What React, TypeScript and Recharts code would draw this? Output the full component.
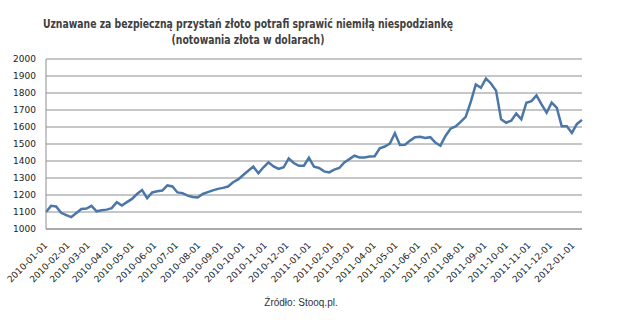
import { LineChart, Line, XAxis, YAxis, CartesianGrid } from 'recharts';

// weekly gold quotes (USD/oz), first quote on 2010-01-01
const startDate = '2010-01-01';
const weeklyPrices = [
  1100, 1136, 1133, 1095, 1082, 1070, 1094, 1118, 1120, 1136,
  1104, 1110, 1114, 1123, 1158, 1138, 1158, 1177, 1206, 1229,
  1181, 1215, 1222, 1226, 1256, 1250, 1215, 1211, 1196, 1188,
  1185, 1206, 1217, 1227, 1236, 1242, 1250, 1275, 1292, 1318,
  1343, 1367, 1328, 1363, 1392, 1368, 1353, 1363, 1415, 1388,
  1372, 1372, 1419, 1366, 1359, 1339, 1333, 1349, 1359, 1392,
  1411, 1431, 1421, 1421, 1427, 1428, 1475, 1485, 1502, 1563,
  1494, 1496, 1520, 1540, 1543, 1535, 1540, 1508, 1490, 1547,
  1590, 1603, 1630, 1660, 1748, 1850, 1831, 1885, 1856, 1814,
  1645, 1625, 1637, 1679, 1645, 1743, 1752, 1786, 1733, 1684,
  1743, 1714, 1604, 1604, 1565, 1618, 1642,
];

const monthLabels = [
  '2010-01-01', '2010-02-01', '2010-03-01', '2010-04-01', '2010-05-01',
  '2010-06-01', '2010-07-01', '2010-08-01', '2010-09-01', '2010-10-01',
  '2010-11-01', '2010-12-01', '2011-01-01', '2011-02-01', '2011-03-01',
  '2011-04-01', '2011-05-01', '2011-06-01', '2011-07-01', '2011-08-01',
  '2011-09-01', '2011-10-01', '2011-11-01', '2011-12-01', '2012-01-01',
];

const priceTicks = [1000, 1100, 1200, 1300, 1400, 1500, 1600, 1700, 1800, 1900, 2000];

const DAY = 86400000;
const t0 = Date.parse(startDate);
const toDay = (s: string) => Math.round((Date.parse(s) - t0) / DAY);
const fromDay = (d: number) => new Date(t0 + d * DAY).toISOString().slice(0, 10);

const chartData = weeklyPrices.map((price, i) => ({ day: i * 7, price }));
const monthTicks = monthLabels.map(toDay);
const lastDay = chartData[chartData.length - 1].day;

const DateTick = ({ x, y, payload }: any) => {
  const tx = x + 2;
  const ty = y + 17;
  return (
    <text
      x={tx}
      y={ty}
      transform={`rotate(-45 ${tx} ${ty})`}
      textAnchor="end"
      fontSize={9}
      fontFamily="DejaVu Sans, Verdana, sans-serif"
      fill="#222"
    >
      {fromDay(payload.value)}
    </text>
  );
};

export default function App() {
  return (
    <div
      style={{
        position: 'absolute',
        left: 0,
        top: 0,
        width: 634,
        height: 320,
        background: '#fff',
      }}
    >
      {/* condensed bold title, squeezed horizontally */}
      <div
        style={{
          position: 'absolute',
          left: 0,
          top: 16,
          width: 496,
          textAlign: 'center',
          fontFamily: '"DejaVu Sans Condensed", "Liberation Sans Narrow", sans-serif',
          fontWeight: 'bold',
          fontSize: 12,
          lineHeight: '16px',
          color: '#404040',
          whiteSpace: 'nowrap',
          transform: 'scaleX(0.86)',
          transformOrigin: '248px 0',
        }}
      >
        Uznawane za bezpieczną przystań złoto potrafi sprawić niemiłą niespodziankę
        <br />
        (notowania złota w dolarach)
      </div>

      <LineChart
        width={634}
        height={320}
        data={chartData}
        margin={{ top: 59, right: 52, bottom: 30, left: 0 }}
      >
        <CartesianGrid vertical={false} stroke="#8e8e8e" />
        <XAxis
          dataKey="day"
          type="number"
          domain={[0, lastDay]}
          ticks={monthTicks}
          interval={0}
          height={61}
          tickLine={false}
          tickSize={0}
          tickMargin={0}
          axisLine={{ stroke: '#8e8e8e' }}
          tick={<DateTick />}
        />
        <YAxis
          domain={[1000, 2000]}
          ticks={priceTicks}
          interval={0}
          width={46}
          tickLine={false}
          tickSize={6}
          tickMargin={4}
          axisLine={{ stroke: '#8e8e8e' }}
          tick={{ fontSize: 9, fill: '#222', fontFamily: 'DejaVu Sans, Verdana, sans-serif' }}
        />
        <Line
          type="linear"
          dataKey="price"
          stroke="#4a76a8"
          strokeWidth={2.5}
          dot={false}
          isAnimationActive={false}
        />
      </LineChart>

      <div
        style={{
          position: 'absolute',
          left: 201,
          top: 297,
          width: 200,
          textAlign: 'center',
          fontFamily: '"Liberation Sans", Arial, sans-serif',
          fontSize: 10,
          lineHeight: '12px',
          color: '#333',
        }}
      >
        Źródło: Stooq.pl.
      </div>
    </div>
  );
}
